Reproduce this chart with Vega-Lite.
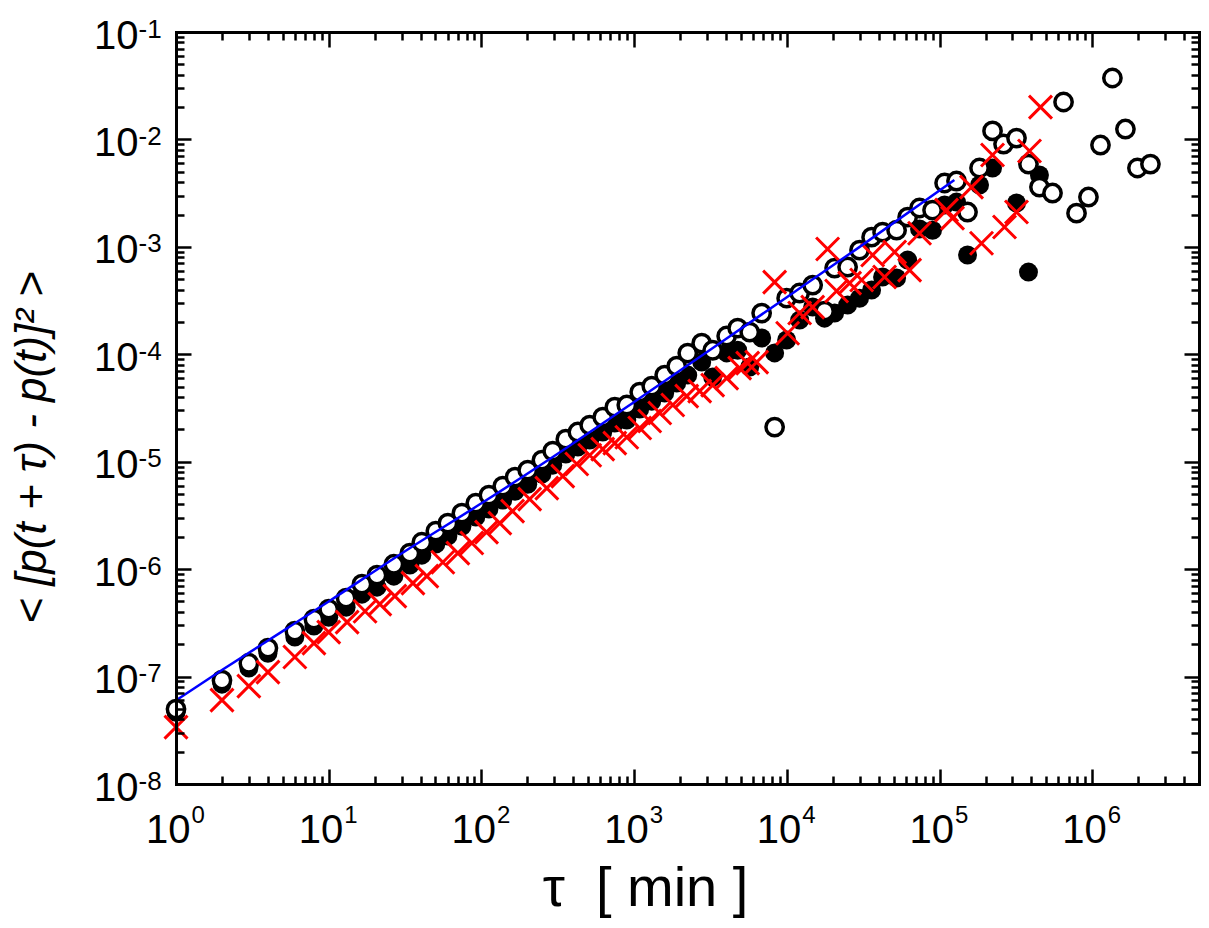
{
  "$schema": "https://vega.github.io/schema/vega-lite/v6.json",
  "width": 1023,
  "height": 752,
  "autosize": {"type": "none"},
  "padding": {"left": 176, "top": 32, "right": 10, "bottom": 144},
  "background": "white",
  "config": {"view": {"stroke": null}, "font": "Liberation Sans", "axis": {"grid": false}},
  "datasets": {
    "open": [
      {"t": 1, "v": 4.98e-8}, {"t": 2, "v": 9.25e-8}, {"t": 3, "v": 1.33e-7}, {"t": 4, "v": 1.84e-7},
      {"t": 6, "v": 2.65e-7}, {"t": 8, "v": 3.42e-7}, {"t": 10, "v": 4.25e-7}, {"t": 13, "v": 5.37e-7},
      {"t": 16.5, "v": 7.24e-7}, {"t": 20.7, "v": 8.79e-7}, {"t": 26.7, "v": 1.11e-6}, {"t": 34, "v": 1.41e-6},
      {"t": 40.7, "v": 1.78e-6}, {"t": 50.3, "v": 2.26e-6}, {"t": 60.3, "v": 2.68e-6}, {"t": 74.5, "v": 3.32e-6},
      {"t": 91.9, "v": 4.12e-6}, {"t": 112, "v": 4.89e-6}, {"t": 138, "v": 5.93e-6}, {"t": 166, "v": 7.19e-6},
      {"t": 201, "v": 8.35e-6}, {"t": 249, "v": 1.035e-5}, {"t": 293, "v": 1.256e-5}, {"t": 357, "v": 1.62e-5},
      {"t": 428, "v": 1.89e-5}, {"t": 512, "v": 2.19e-5}, {"t": 623, "v": 2.6e-5}, {"t": 747, "v": 3.22e-5},
      {"t": 895, "v": 3.37e-5}, {"t": 1088, "v": 4.45e-5}, {"t": 1304, "v": 5.06e-5}, {"t": 1585, "v": 6.4e-5},
      {"t": 1900, "v": 7.77e-5}, {"t": 2244, "v": 1.026e-4}, {"t": 2770, "v": 1.27e-4}, {"t": 3268, "v": 1.09e-4},
      {"t": 4036, "v": 1.48e-4}, {"t": 4766, "v": 1.75e-4}, {"t": 5714, "v": 1.61e-4}, {"t": 6839, "v": 2.42e-4},
      {"t": 8318, "v": 2.1e-5}, {"t": 9970, "v": 3.33e-4}, {"t": 12130, "v": 3.72e-4}, {"t": 14760, "v": 4.41e-4},
      {"t": 17660, "v": 2.52e-4}, {"t": 20550, "v": 6.35e-4}, {"t": 25000, "v": 6.49e-4}, {"t": 29930, "v": 9.33e-4},
      {"t": 35890, "v": 1.23e-3}, {"t": 42360, "v": 1.37e-3}, {"t": 52330, "v": 1.43e-3}, {"t": 61800, "v": 1.89e-3},
      {"t": 73960, "v": 2.3e-3}, {"t": 89970, "v": 2.2e-3}, {"t": 107900, "v": 3.93e-3}, {"t": 129100, "v": 4.1e-3},
      {"t": 152500, "v": 2.11e-3}, {"t": 182700, "v": 5.42e-3}, {"t": 222300, "v": 1.2e-2}, {"t": 262400, "v": 9.06e-3},
      {"t": 319100, "v": 1.03e-2}, {"t": 382200, "v": 5.9e-3}, {"t": 451000, "v": 3.6e-3}, {"t": 549300, "v": 3.17e-3},
      {"t": 648600, "v": 2.23e-2}, {"t": 788900, "v": 2.06e-3}, {"t": 944200, "v": 2.91e-3}, {"t": 1132000, "v": 8.87e-3},
      {"t": 1355000, "v": 3.73e-2}, {"t": 1649000, "v": 1.25e-2}, {"t": 1976000, "v": 5.42e-3}, {"t": 2404000, "v": 5.9e-3}
    ],
    "filled": [
      {"t": 1, "v": 4.66e-8}, {"t": 2, "v": 8.5e-8}, {"t": 3, "v": 1.2e-7}, {"t": 4, "v": 1.65e-7},
      {"t": 6, "v": 2.33e-7}, {"t": 8, "v": 2.95e-7}, {"t": 10, "v": 3.57e-7}, {"t": 13, "v": 4.43e-7},
      {"t": 16.5, "v": 5.85e-7}, {"t": 20.7, "v": 6.8e-7}, {"t": 26.7, "v": 8.61e-7}, {"t": 34, "v": 1.09e-6},
      {"t": 40.7, "v": 1.35e-6}, {"t": 50.3, "v": 1.71e-6}, {"t": 60.3, "v": 2.03e-6}, {"t": 74.5, "v": 2.51e-6},
      {"t": 91.9, "v": 3.05e-6}, {"t": 112, "v": 3.62e-6}, {"t": 138, "v": 4.39e-6}, {"t": 166, "v": 5.32e-6},
      {"t": 201, "v": 6.18e-6}, {"t": 249, "v": 7.67e-6}, {"t": 293, "v": 9.29e-6}, {"t": 357, "v": 1.18e-5},
      {"t": 428, "v": 1.37e-5}, {"t": 512, "v": 1.59e-5}, {"t": 623, "v": 1.89e-5}, {"t": 747, "v": 2.29e-5},
      {"t": 895, "v": 2.44e-5}, {"t": 1088, "v": 3.09e-5}, {"t": 1304, "v": 3.66e-5}, {"t": 1585, "v": 4.35e-5},
      {"t": 1900, "v": 5.4e-5}, {"t": 2244, "v": 6.4e-5}, {"t": 2770, "v": 8.46e-5}, {"t": 3268, "v": 6.14e-5},
      {"t": 4036, "v": 1.03e-4}, {"t": 4766, "v": 1.09e-4}, {"t": 5714, "v": 7.6e-5}, {"t": 6839, "v": 1.42e-4},
      {"t": 8318, "v": 1.03e-4}, {"t": 9970, "v": 1.36e-4}, {"t": 12130, "v": 2.08e-4}, {"t": 14760, "v": 2.75e-4},
      {"t": 17660, "v": 2.17e-4}, {"t": 20550, "v": 2.42e-4}, {"t": 25000, "v": 2.87e-4}, {"t": 29930, "v": 3.33e-4},
      {"t": 35890, "v": 3.96e-4}, {"t": 42360, "v": 5.24e-4}, {"t": 52330, "v": 5.12e-4}, {"t": 61800, "v": 7.53e-4},
      {"t": 73960, "v": 1.47e-3}, {"t": 89970, "v": 1.43e-3}, {"t": 107900, "v": 2.45e-3}, {"t": 129100, "v": 2.61e-3},
      {"t": 152500, "v": 8.39e-4}, {"t": 182700, "v": 3.76e-3}, {"t": 222300, "v": 5.42e-3}, {"t": 319100, "v": 2.56e-3},
      {"t": 382200, "v": 5.82e-4}, {"t": 451000, "v": 4.66e-3}
    ],
    "cross": [
      {"t": 1, "v": 3.38e-8}, {"t": 2, "v": 6.03e-8}, {"t": 3, "v": 8.15e-8}, {"t": 4, "v": 1.1e-7},
      {"t": 6, "v": 1.52e-7}, {"t": 8, "v": 2.05e-7}, {"t": 10, "v": 2.59e-7}, {"t": 13.2, "v": 3.21e-7},
      {"t": 17.3, "v": 4.06e-7}, {"t": 21.6, "v": 4.72e-7}, {"t": 27.1, "v": 5.61e-7}, {"t": 35.6, "v": 7.41e-7},
      {"t": 43.9, "v": 8.61e-7}, {"t": 55.9, "v": 1.16e-6}, {"t": 70.1, "v": 1.41e-6}, {"t": 86.5, "v": 1.75e-6},
      {"t": 108, "v": 2.21e-6}, {"t": 132, "v": 2.68e-6}, {"t": 160, "v": 3.47e-6}, {"t": 207, "v": 4.49e-6},
      {"t": 268, "v": 5.68e-6}, {"t": 341, "v": 7.35e-6}, {"t": 421, "v": 9.51e-6}, {"t": 512, "v": 1.15e-5},
      {"t": 623, "v": 1.31e-5}, {"t": 747, "v": 1.49e-5}, {"t": 895, "v": 1.69e-5}, {"t": 1088, "v": 2.06e-5},
      {"t": 1265, "v": 2.39e-5}, {"t": 1472, "v": 2.84e-5}, {"t": 1791, "v": 3.37e-5}, {"t": 2210, "v": 4.08e-5},
      {"t": 2687, "v": 4.54e-5}, {"t": 3268, "v": 5.17e-5}, {"t": 4036, "v": 6.0e-5}, {"t": 4908, "v": 7.44e-5},
      {"t": 5539, "v": 8.28e-5}, {"t": 6345, "v": 8.46e-5}, {"t": 8318, "v": 4.7e-4}, {"t": 10120, "v": 1.57e-4},
      {"t": 12130, "v": 2.42e-4}, {"t": 14760, "v": 2.75e-4}, {"t": 18490, "v": 9.55e-4}, {"t": 21180, "v": 3.88e-4},
      {"t": 25760, "v": 4.6e-4}, {"t": 30900, "v": 4.91e-4}, {"t": 36470, "v": 8.39e-4}, {"t": 43650, "v": 5.24e-4},
      {"t": 50800, "v": 8.95e-4}, {"t": 63680, "v": 6.08e-4}, {"t": 73960, "v": 1.34e-3}, {"t": 111100, "v": 2.2e-3},
      {"t": 121600, "v": 1.85e-3}, {"t": 161900, "v": 3.6e-3}, {"t": 188300, "v": 1.08e-3}, {"t": 222300, "v": 7.16e-3},
      {"t": 266300, "v": 1.53e-3}, {"t": 319100, "v": 2.11e-3}, {"t": 388100, "v": 7.8e-3}, {"t": 458100, "v": 2.0e-2}
    ],
    "fit": [
      {"t": 1, "v": 6.0e-8}, {"t": 2, "v": 1.15e-7}, {"t": 5, "v": 2.65e-7}, {"t": 10, "v": 5.0e-7},
      {"t": 30, "v": 1.4e-6}, {"t": 100, "v": 4.1e-6}, {"t": 300, "v": 1.13e-5}, {"t": 1000, "v": 3.6e-5},
      {"t": 3000, "v": 1.05e-4}, {"t": 10000, "v": 3.4e-4}, {"t": 30000, "v": 1.0e-3}, {"t": 125000, "v": 4.2e-3}
    ]
  },
  "layer": [
    {
      "data": {"name": "filled"},
      "mark": {"type": "point", "shape": "circle", "filled": true, "fill": "black", "size": 361, "strokeWidth": 0, "opacity": 1},
      "encoding": {
        "x": {"field": "t", "type": "quantitative",
          "scale": {"type": "log", "domain": [1, 5000000], "nice": false},
          "axis": {"orient": "bottom", "title": null, "labels": false, "grid": false, "domain": true, "domainColor": "black", "domainWidth": 3, "domainCap": "square",
            "ticks": true, "tickColor": "black", "tickWidth": 2.5, "zindex": 1,
            "tickSize": {"condition": {"test": "abs(log(datum.value)/LN10 - round(log(datum.value)/LN10)) < 0.0001", "value": -15}, "value": -8},
            "values": [1,2,3,4,5,6,7,8,9,10,20,30,40,50,60,70,80,90,100,200,300,400,500,600,700,800,900,1000,2000,3000,4000,5000,6000,7000,8000,9000,10000,20000,30000,40000,50000,60000,70000,80000,90000,100000,200000,300000,400000,500000,600000,700000,800000,900000,1000000,2000000,3000000,4000000,5000000]}},
        "y": {"field": "v", "type": "quantitative",
          "scale": {"type": "log", "domain": [1e-8, 0.1], "nice": false},
          "axis": {"orient": "left", "title": null, "labels": false, "grid": false, "domain": true, "domainColor": "black", "domainWidth": 3, "domainCap": "square",
            "ticks": true, "tickColor": "black", "tickWidth": 2.5, "zindex": 1,
            "tickSize": {"condition": {"test": "abs(log(datum.value)/LN10 - round(log(datum.value)/LN10)) < 0.0001", "value": -15}, "value": -8},
            "values": [1e-8,2e-8,3e-8,4e-8,5e-8,6e-8,7e-8,8e-8,9e-8,1e-7,2e-7,3e-7,4e-7,5e-7,6e-7,7e-7,8e-7,9e-7,1e-6,2e-6,3e-6,4e-6,5e-6,6e-6,7e-6,8e-6,9e-6,1e-5,2e-5,3e-5,4e-5,5e-5,6e-5,7e-5,8e-5,9e-5,1e-4,2e-4,3e-4,4e-4,5e-4,6e-4,7e-4,8e-4,9e-4,1e-3,2e-3,3e-3,4e-3,5e-3,6e-3,7e-3,8e-3,9e-3,1e-2,2e-2,3e-2,4e-2,5e-2,6e-2,7e-2,8e-2,9e-2,0.1]}}
      }
    },
    {
      "data": {"name": "open"},
      "mark": {"type": "point", "shape": "circle", "filled": true, "fill": "white", "stroke": "black", "strokeWidth": 3.5, "size": 300, "opacity": 1, "fillOpacity": 1, "strokeOpacity": 1},
      "encoding": {
        "x": {"field": "t", "type": "quantitative",
          "scale": {"type": "log", "domain": [1, 5000000], "nice": false},
          "axis": {"orient": "top", "title": null, "labels": false, "grid": false, "domain": true, "domainColor": "black", "domainWidth": 3, "domainCap": "square",
            "ticks": true, "tickColor": "black", "tickWidth": 2.5, "zindex": 1,
            "tickSize": {"condition": {"test": "abs(log(datum.value)/LN10 - round(log(datum.value)/LN10)) < 0.0001", "value": -15}, "value": -8},
            "values": [1,2,3,4,5,6,7,8,9,10,20,30,40,50,60,70,80,90,100,200,300,400,500,600,700,800,900,1000,2000,3000,4000,5000,6000,7000,8000,9000,10000,20000,30000,40000,50000,60000,70000,80000,90000,100000,200000,300000,400000,500000,600000,700000,800000,900000,1000000,2000000,3000000,4000000,5000000]}},
        "y": {"field": "v", "type": "quantitative",
          "scale": {"type": "log", "domain": [1e-8, 0.1], "nice": false},
          "axis": {"orient": "right", "title": null, "labels": false, "grid": false, "domain": true, "domainColor": "black", "domainWidth": 3, "domainCap": "square",
            "ticks": true, "tickColor": "black", "tickWidth": 2.5, "zindex": 1,
            "tickSize": {"condition": {"test": "abs(log(datum.value)/LN10 - round(log(datum.value)/LN10)) < 0.0001", "value": -15}, "value": -8},
            "values": [1e-8,2e-8,3e-8,4e-8,5e-8,6e-8,7e-8,8e-8,9e-8,1e-7,2e-7,3e-7,4e-7,5e-7,6e-7,7e-7,8e-7,9e-7,1e-6,2e-6,3e-6,4e-6,5e-6,6e-6,7e-6,8e-6,9e-6,1e-5,2e-5,3e-5,4e-5,5e-5,6e-5,7e-5,8e-5,9e-5,1e-4,2e-4,3e-4,4e-4,5e-4,6e-4,7e-4,8e-4,9e-4,1e-3,2e-3,3e-3,4e-3,5e-3,6e-3,7e-3,8e-3,9e-3,1e-2,2e-2,3e-2,4e-2,5e-2,6e-2,7e-2,8e-2,9e-2,0.1]}}
      }
    },
    {
      "data": {"name": "cross"},
      "mark": {"type": "point", "shape": "M-1,-1L1,1M1,-1L-1,1", "filled": false, "stroke": "#ff0000", "strokeWidth": 3, "size": 529, "opacity": 1},
      "encoding": {
        "x": {"field": "t", "type": "quantitative",
          "scale": {"type": "log", "domain": [1, 5000000], "nice": false},
          "axis": {"orient": "bottom", "grid": false, "domain": false, "ticks": false,
            "values": [1,10,100,1000,10000,100000,1000000],
            "labelExpr": "'10'", "labelFont": "Liberation Sans", "labelFontSize": 40, "labelColor": "black",
            "labelAlign": "right", "labelBaseline": "alphabetic", "labelOffset": 14, "labelPadding": 58,
            "labelFlush": false, "labelOverlap": false, "labelBound": false,
            "title": "τ\u00a0\u00a0[\u00a0min\u00a0]", "titleFont": "Liberation Sans", "titleFontSize": 56, "titleFontWeight": "normal", "titleColor": "black",
            "titleX": 469, "titleY": 121, "titleAlign": "center", "titleBaseline": "alphabetic", "titleAngle": 0}},
        "y": {"field": "v", "type": "quantitative",
          "scale": {"type": "log", "domain": [1e-8, 0.1], "nice": false},
          "axis": {"orient": "left", "grid": false, "domain": false, "ticks": false,
            "values": [1e-8,1e-7,1e-6,1e-5,1e-4,1e-3,1e-2,0.1],
            "labelExpr": "'10'", "labelFont": "Liberation Sans", "labelFontSize": 40, "labelColor": "black",
            "labelAlign": "right", "labelBaseline": "alphabetic", "labelOffset": 16, "labelPadding": 38,
            "labelFlush": false, "labelOverlap": false, "labelBound": false,
            "title": "< [p(t + τ) - p(t)]² >", "titleFont": "Liberation Sans", "titleFontSize": 44, "titleFontWeight": "normal", "titleFontStyle": "italic", "titleColor": "black",
            "titleX": -131, "titleY": 415, "titleAlign": "center", "titleBaseline": "alphabetic", "titleAngle": 270}}
      }
    },
    {
      "data": {"name": "fit"},
      "mark": {"type": "line", "color": "#0000ff", "strokeWidth": 2.5, "interpolate": "monotone"},
      "encoding": {
        "x": {"field": "t", "type": "quantitative",
          "scale": {"type": "log", "domain": [1, 5000000], "nice": false},
          "axis": {"orient": "bottom", "grid": false, "domain": false, "ticks": false, "title": null,
            "values": [1,10,100,1000,10000,100000,1000000],
            "labelExpr": "'' + round(log(datum.value)/LN10)", "labelFont": "Liberation Sans", "labelFontSize": 24, "labelColor": "black",
            "labelAlign": "left", "labelBaseline": "alphabetic", "labelOffset": 15, "labelPadding": 38,
            "labelFlush": false, "labelOverlap": false, "labelBound": false}},
        "y": {"field": "v", "type": "quantitative",
          "scale": {"type": "log", "domain": [1e-8, 0.1], "nice": false},
          "axis": {"orient": "left", "grid": false, "domain": false, "ticks": false, "title": null,
            "values": [1e-8,1e-7,1e-6,1e-5,1e-4,1e-3,1e-2,0.1],
            "labelExpr": "'' + round(log(datum.value)/LN10)", "labelFont": "Liberation Sans", "labelFontSize": 26, "labelColor": "black",
            "labelAlign": "left", "labelBaseline": "alphabetic", "labelOffset": 5, "labelPadding": 38,
            "labelFlush": false, "labelOverlap": false, "labelBound": false}}
      }
    }
  ],
  "resolve": {"axis": {"x": "independent", "y": "independent"}}
}
